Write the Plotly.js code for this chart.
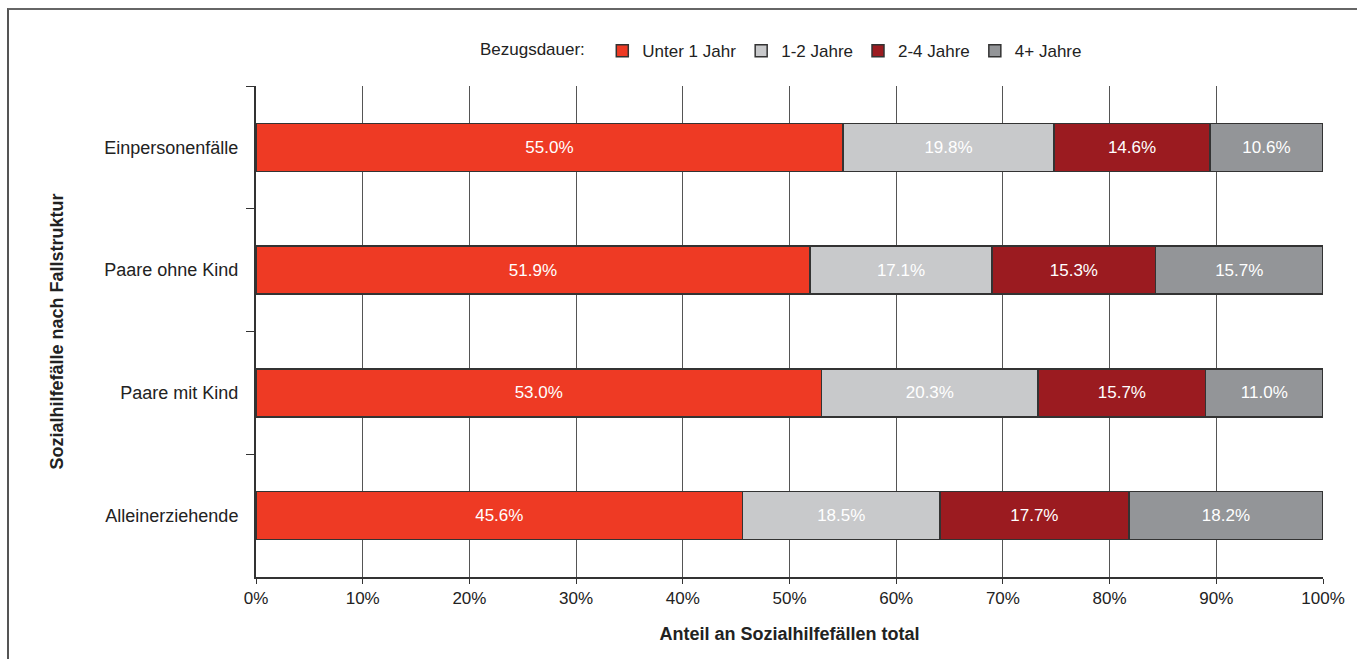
<!DOCTYPE html>
<html>
<head>
<meta charset="utf-8">
<script src="https://cdn.plot.ly/plotly-3.0.1.min.js"></script>
<style>
  html, body { margin: 0; padding: 0; background: #fff; }
  #wrap { position: relative; width: 1357px; height: 659px; overflow: hidden; }
  #chart { width: 1357px; height: 659px; }
  #frame { position: absolute; left: 7px; top: 8px; width: 1400px; height: 700px;
           border-left: 2px solid #555; border-top: 2px solid #666; pointer-events: none; }
</style>
</head>
<body>
<div id="wrap">
  <div id="chart"></div>
  <div id="frame"></div>
</div>
<script>
const categories = ['Einpersonenfälle', 'Paare ohne Kind', 'Paare mit Kind', 'Alleinerziehende'];
const seriesNames = ['Unter 1 Jahr', '1-2 Jahre', '2-4 Jahre', '4+ Jahre'];
const unter1Jahr = [55.0, 51.9, 53.0, 45.6];
const jahre1bis2 = [19.8, 17.1, 20.3, 18.5];
const jahre2bis4 = [14.6, 15.3, 15.7, 17.7];
const jahre4plus = [10.6, 15.7, 11.0, 18.2];
const xTickVals = [0, 10, 20, 30, 40, 50, 60, 70, 80, 90, 100];

const colors = ['#EE3A24', '#C8C9CB', '#9B1B20', '#939598'];
const values = [unter1Jahr, jahre1bis2, jahre2bis4, jahre4plus];
const FONT = 'Liberation Sans, Arial, sans-serif';

const traces = values.map((v, i) => ({
  type: 'bar',
  orientation: 'h',
  name: seriesNames[i],
  x: v,
  y: categories,
  width: 0.39,
  marker: { color: colors[i], line: { color: '#333333', width: 1.5 } },
  texttemplate: '%{x:.1f}%',
  textposition: 'inside',
  insidetextanchor: 'middle',
  textangle: 0,
  constraintext: 'none',
  textfont: { color: '#ffffff', size: 17, family: FONT },
  hoverinfo: 'x+y+name'
}));

const layout = {
  width: 1357,
  height: 659,
  paper_bgcolor: '#ffffff',
  plot_bgcolor: '#ffffff',
  barmode: 'stack',
  font: { family: FONT, size: 17, color: '#222222' },
  margin: { l: 256, r: 34, t: 86, b: 82, pad: 0 },
  showlegend: true,
  legend: {
    orientation: 'h',
    x: 0.208,
    xanchor: 'left',
    y: 1.071,
    yanchor: 'middle',
    title: { text: 'Bezugsdauer:  ', side: 'left', font: { size: 17, color: '#222' } },
    font: { size: 17, color: '#222' },
    traceorder: 'normal',
    itemwidth: 30,
    bgcolor: 'rgba(0,0,0,0)'
  },
  xaxis: {
    range: [0, 100],
    tickvals: xTickVals,
    ticktext: xTickVals.map(v => v + '%'),
    showgrid: true,
    gridcolor: '#555555',
    gridwidth: 1,
    zeroline: false,
    showline: true,
    linecolor: '#333333',
    linewidth: 2,
    ticks: 'outside',
    ticklen: 5,
    tickcolor: '#333333',
    tickfont: { size: 17, color: '#222' },
    fixedrange: true,
    title: { text: 'Anteil an Sozialhilfefällen total', font: { size: 18, color: '#222', weight: 'bold' }, standoff: 20 }
  },
  yaxis: {
    type: 'category',
    categoryorder: 'array',
    categoryarray: categories,
    range: [3.5, -0.5],
    showgrid: false,
    zeroline: false,
    showline: true,
    linecolor: '#333333',
    linewidth: 2,
    ticks: 'outside',
    tickson: 'boundaries',
    ticklen: 8,
    tickcolor: '#333333',
    ticklabelstandoff: 12,
    tickfont: { size: 18, color: '#222' },
    fixedrange: true,
    title: { text: 'Sozialhilfefälle nach Fallstruktur', font: { size: 18, color: '#222', weight: 'bold' }, standoff: 36 }
  }
};

Plotly.newPlot('chart', traces, layout, { displayModeBar: false, staticPlot: true });
</script>
</body>
</html>
